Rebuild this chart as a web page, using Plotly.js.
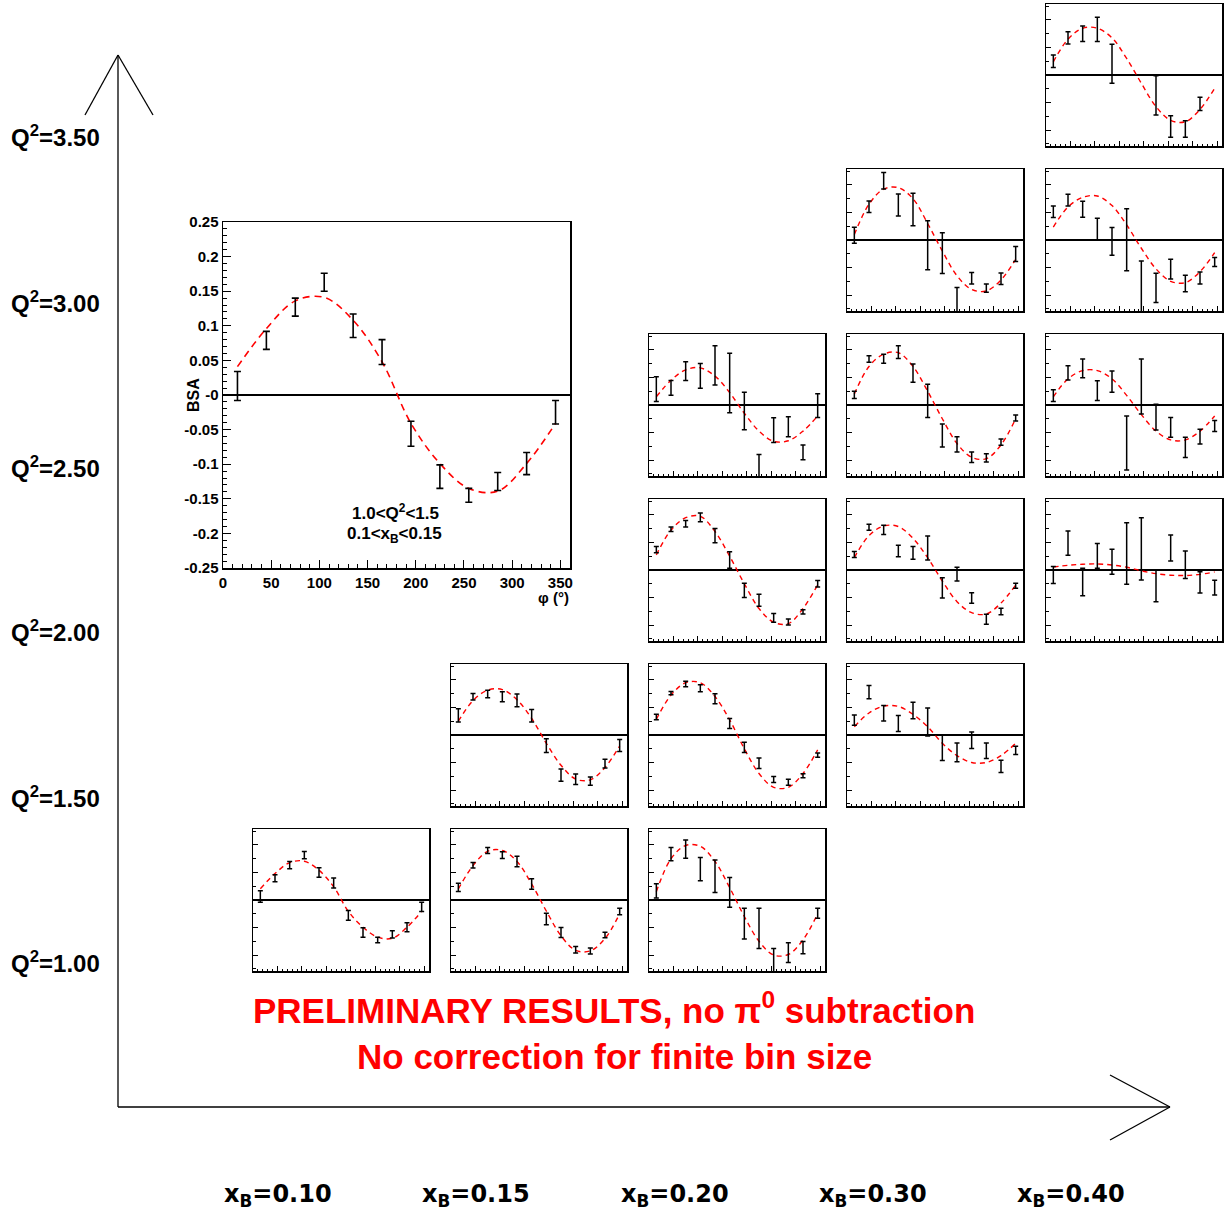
<!DOCTYPE html>
<html><head><meta charset="utf-8">
<script src="https://cdn.plot.ly/plotly-3.0.1.min.js"></script>
<style>html,body{margin:0;padding:0;background:#fff}#chart{width:1224px;height:1218px}</style>
</head><body><div id="chart"></div>
<script>
// ---------- data ----------
const phi = [15,45,75,105,135,165,195,225,255,285,315,345];
const xBLabels = ['0.10','0.15','0.20','0.30','0.40'];
const q2Labels = ['1.00','1.50','2.00','2.50','3.00','3.50'];
const bigTicks = [-0.25,-0.2,-0.15,-0.1,-0.05,0,0.05,0.1,0.15,0.2,0.25];
const bigTickText = ['-0.25','-0.2','-0.15','-0.1','-0.05','-0','0.05','0.1','0.15','0.2','0.25'];
const phiTicks = [0,50,100,150,200,250,300,350];

// Q2=1.00
const bsa_q100_x010 = [0.013,0.079,0.127,0.163,0.100,0.062,-0.056,-0.118,-0.145,-0.125,-0.099,-0.025];
const err_q100_x010 = [0.021,0.013,0.013,0.013,0.017,0.018,0.018,0.017,0.010,0.013,0.016,0.017];
const fit_q100_x010 = [0.041,0.096,0.136,0.141,0.108,0.048,-0.041,-0.099,-0.135,-0.139,-0.099,-0.041];

const bsa_q100_x015 = [0.046,0.126,0.180,0.163,0.140,0.058,-0.069,-0.118,-0.181,-0.185,-0.127,-0.042];
const err_q100_x015 = [0.015,0.010,0.011,0.012,0.019,0.019,0.021,0.018,0.012,0.011,0.010,0.012];
const fit_q100_x015 = [0.040,0.125,0.177,0.180,0.140,0.058,-0.040,-0.130,-0.183,-0.185,-0.140,-0.050];

const bsa_q100_x020 = [0.033,0.167,0.185,0.112,0.086,0.028,-0.086,-0.103,-0.221,-0.191,-0.173,-0.048];
const err_q100_x020 = [0.026,0.024,0.033,0.042,0.059,0.054,0.056,0.073,0.045,0.036,0.022,0.018];
const fit_q100_x020 = [0.030,0.150,0.198,0.195,0.140,0.045,-0.060,-0.150,-0.200,-0.198,-0.145,-0.050];

// Q2=1.50
const bsa_q150_x015 = [0.071,0.139,0.149,0.139,0.126,0.070,-0.039,-0.146,-0.161,-0.168,-0.104,-0.038];
const err_q150_x015 = [0.024,0.012,0.014,0.018,0.023,0.023,0.025,0.022,0.019,0.015,0.016,0.022];
const fit_q150_x015 = [0.050,0.125,0.163,0.165,0.128,0.060,-0.030,-0.110,-0.160,-0.163,-0.118,-0.040];

const bsa_q150_x020 = [0.065,0.152,0.185,0.170,0.132,0.042,-0.045,-0.103,-0.162,-0.172,-0.148,-0.073];
const err_q150_x020 = [0.010,0.006,0.010,0.013,0.018,0.018,0.019,0.019,0.011,0.011,0.007,0.008];
const fit_q150_x020 = [0.057,0.145,0.190,0.190,0.140,0.055,-0.050,-0.140,-0.190,-0.190,-0.140,-0.054];

const bsa_q150_x030 = [0.054,0.156,0.079,0.042,0.089,0.047,-0.046,-0.063,-0.019,-0.057,-0.114,-0.056];
const err_q150_x030 = [0.019,0.024,0.028,0.029,0.030,0.051,0.047,0.034,0.030,0.028,0.022,0.015];
const fit_q150_x030 = [0.030,0.080,0.105,0.104,0.075,0.030,-0.030,-0.075,-0.100,-0.100,-0.075,-0.030];

// Q2=2.00
const bsa_q200_x020 = [0.074,0.148,0.168,0.191,0.125,0.036,-0.074,-0.110,-0.174,-0.189,-0.152,-0.050];
const err_q200_x020 = [0.011,0.008,0.012,0.016,0.026,0.030,0.026,0.022,0.016,0.011,0.008,0.012];
const fit_q200_x020 = [0.055,0.145,0.190,0.195,0.140,0.050,-0.050,-0.140,-0.190,-0.195,-0.140,-0.054];

const bsa_q200_x030 = [0.056,0.155,0.146,0.069,0.062,0.080,-0.065,-0.015,-0.102,-0.179,-0.151,-0.057];
const err_q200_x030 = [0.011,0.011,0.017,0.021,0.023,0.044,0.037,0.025,0.019,0.018,0.012,0.009];
const fit_q200_x030 = [0.045,0.125,0.160,0.158,0.115,0.045,-0.040,-0.115,-0.155,-0.160,-0.120,-0.055];

const bsa_q200_x040 = [-0.018,0.098,-0.044,0.051,0.030,0.060,0.077,-0.058,0.080,0.019,-0.045,-0.064];
const err_q200_x040 = [0.031,0.044,0.050,0.045,0.045,0.112,0.113,0.057,0.047,0.050,0.039,0.027];
const fit_q200_x040 = [0.011,0.017,0.021,0.022,0.018,0.010,-0.003,-0.013,-0.019,-0.020,-0.016,-0.007];

// Q2=2.50
const bsa_q250_x020 = [0.058,0.062,0.123,0.106,0.144,0.080,-0.022,-0.250,-0.091,-0.079,-0.172,-0.002];
const err_q250_x020 = [0.045,0.027,0.034,0.045,0.071,0.108,0.068,0.070,0.045,0.036,0.027,0.043];
const fit_q250_x020 = [0.030,0.090,0.128,0.135,0.105,0.045,-0.030,-0.095,-0.132,-0.130,-0.095,-0.040];

const bsa_q250_x030 = [0.037,0.167,0.168,0.192,0.116,0.015,-0.111,-0.143,-0.190,-0.192,-0.135,-0.047];
const err_q250_x030 = [0.013,0.012,0.016,0.023,0.033,0.060,0.042,0.028,0.019,0.015,0.011,0.011];
const fit_q250_x030 = [0.040,0.140,0.185,0.190,0.140,0.050,-0.050,-0.140,-0.190,-0.195,-0.145,-0.050];

const bsa_q250_x040 = [0.034,0.117,0.133,0.052,0.085,-0.138,0.067,-0.044,-0.081,-0.154,-0.115,-0.076];
const err_q250_x040 = [0.021,0.026,0.034,0.036,0.039,0.098,0.100,0.047,0.036,0.037,0.027,0.020];
const fit_q250_x040 = [0.030,0.095,0.125,0.125,0.095,0.035,-0.035,-0.095,-0.127,-0.127,-0.095,-0.040];

// Q2=3.00
const bsa_q300_x030 = [0.017,0.121,0.215,0.127,0.111,-0.019,-0.048,-0.260,-0.139,-0.175,-0.141,-0.051];
const err_q300_x030 = [0.029,0.021,0.030,0.040,0.059,0.089,0.074,0.087,0.021,0.015,0.021,0.027];
const fit_q300_x030 = [0.020,0.130,0.185,0.190,0.150,0.060,-0.040,-0.130,-0.180,-0.185,-0.145,-0.070];

const bsa_q300_x040 = [0.103,0.145,0.112,0.040,-0.005,0.001,-0.190,-0.174,-0.106,-0.158,-0.138,-0.080];
const err_q300_x040 = [0.021,0.021,0.029,0.039,0.050,0.113,0.114,0.053,0.036,0.030,0.022,0.016];
const fit_q300_x040 = [0.047,0.120,0.155,0.160,0.125,0.055,-0.030,-0.105,-0.150,-0.155,-0.115,-0.046];

// Q2=3.50
const bsa_q350_x040 = [0.050,0.135,0.150,0.166,0.041,null,null,-0.074,-0.187,-0.196,-0.105,null];
const err_q350_x040 = [0.023,0.022,0.028,0.044,0.071,null,null,0.071,0.039,0.030,0.024,null];
const fit_q350_x040 = [0.048,0.130,0.170,0.170,0.135,0.060,-0.030,-0.115,-0.165,-0.170,-0.125,-0.048];

// panels: col = xB index, row = Q2 index
const panels = [
  {col:0,row:0,y:bsa_q100_x010,e:err_q100_x010,f:fit_q100_x010},
  {col:1,row:0,y:bsa_q100_x015,e:err_q100_x015,f:fit_q100_x015},
  {col:2,row:0,y:bsa_q100_x020,e:err_q100_x020,f:fit_q100_x020},
  {col:1,row:1,y:bsa_q150_x015,e:err_q150_x015,f:fit_q150_x015},
  {col:2,row:1,y:bsa_q150_x020,e:err_q150_x020,f:fit_q150_x020},
  {col:3,row:1,y:bsa_q150_x030,e:err_q150_x030,f:fit_q150_x030},
  {col:2,row:2,y:bsa_q200_x020,e:err_q200_x020,f:fit_q200_x020},
  {col:3,row:2,y:bsa_q200_x030,e:err_q200_x030,f:fit_q200_x030},
  {col:4,row:2,y:bsa_q200_x040,e:err_q200_x040,f:fit_q200_x040},
  {col:2,row:3,y:bsa_q250_x020,e:err_q250_x020,f:fit_q250_x020},
  {col:3,row:3,y:bsa_q250_x030,e:err_q250_x030,f:fit_q250_x030},
  {col:4,row:3,y:bsa_q250_x040,e:err_q250_x040,f:fit_q250_x040},
  {col:3,row:4,y:bsa_q300_x030,e:err_q300_x030,f:fit_q300_x030},
  {col:4,row:4,y:bsa_q300_x040,e:err_q300_x040,f:fit_q300_x040},
  {col:4,row:5,y:bsa_q350_x040,e:err_q350_x040,f:fit_q350_x040}
];

// ---------- layout ----------
const W = 1224, H = 1218;
const PX = x => x / W, PY = y => 1 - y / H;
const colLeft = [253,451,649,847,1046];
const rowTop = [829,664,499,334,169,4];
const pw = 176, ph = 142;
const FONT = 'Liberation Sans, Arial, Helvetica, sans-serif';
const WIDEFONT = 'DejaVu Sans, Liberation Sans, sans-serif';

const traces = [];
const layout = {
  width: W, height: H,
  margin: {l:0,r:0,t:0,b:0},
  paper_bgcolor: 'white', plot_bgcolor: 'white',
  showlegend: false,
  font: {family: FONT, color: 'black'},
  shapes: [], annotations: []
};

// Big panel (subplot 1)
layout.xaxis = {
  domain: [PX(223), PX(570)], anchor: 'y', range: [0, 360],
  showline: true, mirror: true, linecolor: 'black', linewidth: 1.5,
  showgrid: false, zeroline: false,
  ticks: 'inside', ticklen: 8, tickwidth: 1, tickcolor: 'black',
  tickvals: phiTicks, ticktext: phiTicks.map(String),
  tickfont: {family: FONT, size: 15, weight: 'bold'},
  minor: {ticks: 'inside', dtick: 10, tick0: 0, ticklen: 4, tickcolor: 'black', showgrid: false}
};
layout.yaxis = {
  domain: [PY(568), PY(222)], anchor: 'x', range: [-0.25, 0.25],
  showline: true, mirror: true, linecolor: 'black', linewidth: 1.5,
  showgrid: false, zeroline: true, zerolinecolor: 'black', zerolinewidth: 1.3,
  ticks: 'inside', ticklen: 8, tickwidth: 1, tickcolor: 'black',
  tickvals: bigTicks, ticktext: bigTickText,
  tickfont: {family: FONT, size: 15, weight: 'bold'},
  minor: {ticks: 'inside', dtick: 0.01, tick0: 0, ticklen: 4, tickcolor: 'black', showgrid: false}
};
traces.push({x: phi, y: fit_q100_x010, mode: 'lines', xaxis: 'x', yaxis: 'y',
  line: {color: 'red', width: 1.6, dash: '7px,5px', shape: 'spline'}, hoverinfo: 'skip'});
traces.push({x: phi, y: bsa_q100_x010, mode: 'markers', xaxis: 'x', yaxis: 'y',
  marker: {size: 1, color: 'rgba(0,0,0,0)'},
  error_y: {type: 'data', array: err_q100_x010, visible: true, color: 'black', thickness: 1.6, width: 3.5}});

// small panels
panels.forEach((p, i) => {
  const n = i + 2;
  const l = colLeft[p.col], t = rowTop[p.row];
  layout['xaxis' + n] = {
    domain: [PX(l), PX(l + pw)], anchor: 'y' + n, range: [0, 360],
    showline: true, mirror: true, linecolor: 'black', linewidth: 1.5,
    showgrid: false, zeroline: false, showticklabels: false,
    ticks: 'inside', ticklen: 5, tickwidth: 1, tickcolor: 'black', dtick: 50, tick0: 0,
    minor: {ticks: 'inside', dtick: 10, tick0: 0, ticklen: 2.5, tickcolor: 'black', showgrid: false}
  };
  layout['yaxis' + n] = {
    domain: [PY(t + ph), PY(t)], anchor: 'x' + n, range: [-0.258, 0.258],
    showline: true, mirror: true, linecolor: 'black', linewidth: 1.5,
    showgrid: false, zeroline: true, zerolinecolor: 'black', zerolinewidth: 1.3,
    showticklabels: false,
    ticks: 'inside', ticklen: 5, tickwidth: 1, tickcolor: 'black', dtick: 0.1, tick0: 0,
    minor: {ticks: 'inside', dtick: 0.05, tick0: 0, ticklen: 2.5, tickcolor: 'black', showgrid: false}
  };
  traces.push({x: phi, y: p.f, mode: 'lines', xaxis: 'x' + n, yaxis: 'y' + n,
    line: {color: 'red', width: 1.4, dash: '5px,4px', shape: 'spline'}, hoverinfo: 'skip'});
  traces.push({x: phi, y: p.y, mode: 'markers', xaxis: 'x' + n, yaxis: 'y' + n,
    marker: {size: 1, color: 'rgba(0,0,0,0)'},
    error_y: {type: 'data', array: p.e, visible: true, color: 'black', thickness: 1.5, width: 2.5}});
});

// big arrows
const seg = (x0, y0, x1, y1) => ({type: 'line', xref: 'paper', yref: 'paper',
  x0: PX(x0), y0: PY(y0), x1: PX(x1), y1: PY(y1), line: {color: 'black', width: 1.3}});
layout.shapes.push(seg(118, 1107, 118, 55));
layout.shapes.push(seg(85, 115, 118, 55));
layout.shapes.push(seg(118, 55, 153, 115));
layout.shapes.push(seg(118, 1107, 1170, 1107));
layout.shapes.push(seg(1110, 1075, 1170, 1107));
layout.shapes.push(seg(1170, 1107, 1110, 1140));

const ann = (x, y, text, size, extra) => Object.assign({
  xref: 'paper', yref: 'paper', x: PX(x), y: PY(y), text: text, showarrow: false,
  xanchor: 'center', yanchor: 'middle',
  font: {family: FONT, size: size, color: 'black', weight: 'bold'}
}, extra || {});

// Q2 labels
const q2LabelY = [962, 797, 631, 467, 302, 136];
q2Labels.forEach((q, i) => layout.annotations.push(ann(55, q2LabelY[i], 'Q<sup>2</sup>=' + q, 24)));
// xB labels
const xBLabelX = [278, 476, 675, 873, 1071];
xBLabels.forEach((x, i) => layout.annotations.push(ann(xBLabelX[i], 1195, 'x<sub>B</sub>=' + x, 24,
  {font: {family: WIDEFONT, size: 24, color: 'black', weight: 'bold'}})));

// big panel texts
layout.annotations.push(ann(193, 395, 'BSA', 16, {textangle: -90}));
layout.annotations.push(ann(553, 597, 'φ (°)', 15));
layout.annotations.push(ann(395, 512, '1.0&lt;Q<sup>2</sup>&lt;1.5', 17));
layout.annotations.push(ann(394, 535, '0.1&lt;x<sub>B</sub>&lt;0.15', 17));

// red notices
const redFont = {family: FONT, size: 35, color: 'red', weight: 'bold'};
layout.annotations.push(ann(614, 1008, 'PRELIMINARY RESULTS, no π<sup>0</sup> subtraction', 35, {font: redFont}));
layout.annotations.push(ann(614, 1056, 'No correction for finite bin size', 35, {font: redFont}));

Plotly.newPlot('chart', traces, layout, {staticPlot: true});
</script>
</body></html>
